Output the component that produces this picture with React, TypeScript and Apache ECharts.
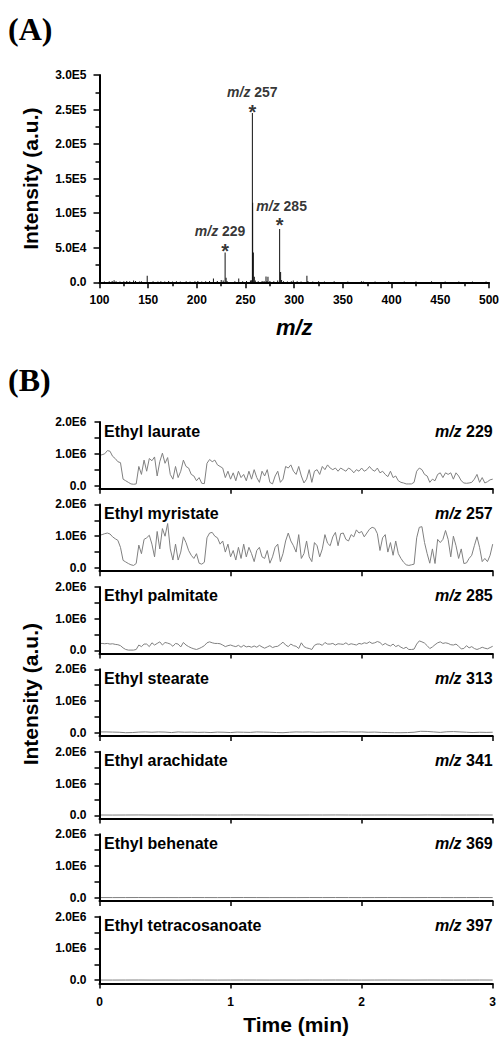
import React, { useEffect, useRef } from "react";
import * as echarts from "echarts";

// ---------- Panel A: mass spectrum (m/z, intensity) ----------
const spectrumMz = [101, 105, 110, 113, 115, 117, 121, 125, 128, 131, 135, 137, 141, 143, 149, 155, 160, 163, 167, 171, 175, 179, 183, 189, 193, 198, 201, 205, 209, 213, 217, 221, 225, 227, 229, 230, 231, 239, 243, 247, 251, 255, 256, 257, 257.3, 258, 259, 260, 263, 267, 269, 271, 272, 273, 275, 279, 283, 285, 286, 287, 289, 293, 297, 299, 303, 307, 313, 314, 319, 325, 331, 341, 355, 369, 371, 383, 397, 413, 425, 441, 455, 469, 483, 497];
const spectrumIntensity = [2500, 1200, 1500, 1800, 3000, 1500, 1200, 1500, 1800, 1500, 2500, 1800, 1200, 1500, 9500, 1500, 1200, 1500, 1200, 1800, 1200, 1500, 1200, 1500, 1200, 1500, 1800, 1200, 1500, 1800, 5500, 1800, 3500, 2500, 43000, 6500, 2000, 1500, 5500, 1500, 1800, 2500, 3000, 245000, 115000, 43000, 8000, 2500, 1500, 1800, 2000, 8500, 2000, 8000, 2000, 1500, 2500, 77000, 15000, 3500, 1500, 1200, 1500, 2500, 1500, 1200, 9500, 2000, 1200, 1500, 1200, 1500, 1200, 1500, 1200, 1200, 1500, 1200, 1200, 1500, 1200, 1200, 1200, 1200];
const peakMz = [229, 257, 285];
const peakIntensity = [43000, 245000, 77000];
const peakNames = ["229", "257", "285"];
const specYTickLabels = ["0.0", "5.0E4", "1.0E5", "1.5E5", "2.0E5", "2.5E5", "3.0E5"];

// ---------- Panel B: extracted ion chromatograms (values in 1E6 units) ----------
const TIME_MAX = 3; // min
const rowNames = ["Ethyl laurate", "Ethyl myristate", "Ethyl palmitate", "Ethyl stearate", "Ethyl arachidate", "Ethyl behenate", "Ethyl tetracosanoate"];
const rowMz = ["229", "257", "285", "313", "341", "369", "397"];
const rowYTickLabels = ["", "0.0", "", "", "", "", "", "", "", "", "", "1.0E6", "", "", "", "", "", "", "", "", "", "2.0E6"];

const laurate = [
  0.95, 0.97, 1.0, 1.1, 1.08, 0.92, 0.85, 0.75, 0.72, 0.2,
  0.15, 0.1, 0.05, 0.04, 0.05, 0.6, 0.35, 0.8, 0.45, 0.85,
  0.78, 0.9, 0.3, 0.75, 1.02, 0.7, 0.88, 0.35, 0.2, 0.6,
  0.25, 0.45, 0.8, 0.6, 0.55, 0.35, 0.3, 0.15, 0.25, 0.07,
  0.06, 0.7, 0.82, 0.75, 0.8, 0.65, 0.6, 0.55, 0.25, 0.45,
  0.2, 0.4, 0.15, 0.45, 0.25, 0.35, 0.15, 0.45, 0.2, 0.5,
  0.25, 0.1, 0.45, 0.3, 0.5, 0.1, 0.05, 0.3, 0.45, 0.1,
  0.2, 0.6, 0.55, 0.65, 0.45, 0.35, 0.6, 0.3, 0.08, 0.2,
  0.5, 0.1, 0.45, 0.5, 0.35, 0.6, 0.5, 0.65, 0.55, 0.5,
  0.55, 0.45, 0.55, 0.5, 0.45, 0.55, 0.5, 0.4, 0.5, 0.45,
  0.55, 0.45, 0.5, 0.6, 0.5, 0.45, 0.55, 0.4, 0.45, 0.35,
  0.28, 0.45, 0.25, 0.3, 0.15, 0.1, 0.08, 0.05, 0.05, 0.05,
  0.1, 0.45, 0.55, 0.5, 0.35, 0.3, 0.1, 0.2, 0.15, 0.35,
  0.4, 0.25, 0.4, 0.35, 0.4, 0.2, 0.4, 0.3, 0.15, 0.08,
  0.07, 0.08, 0.1, 0.2, 0.35, 0.1, 0.25, 0.08, 0.12, 0.18, 0.2,
];
const myristate = [
  1.03, 1.05, 1.08, 1.1, 1.07, 0.98, 0.92, 0.87, 0.65, 0.24,
  0.19, 0.14, 0.1, 0.08, 0.14, 0.72, 0.45, 0.9, 0.95, 1.03,
  0.75, 0.35, 1.15, 0.6, 1.24, 1.0, 1.4, 0.6, 0.25, 0.75,
  0.25, 0.5, 0.98, 0.8, 0.55, 0.4, 0.3, 0.45, 0.15, 0.12,
  0.18, 0.95, 1.1, 1.12, 1.0, 0.95, 0.75, 0.85, 0.5, 0.75,
  0.35, 0.55, 0.25, 0.65, 0.3, 0.75, 0.35, 0.65, 0.45, 0.2,
  0.55, 0.65, 0.35, 0.3, 0.55, 0.15, 0.35, 0.65, 0.75, 0.2,
  0.45, 0.85, 1.1, 0.85, 0.7, 0.5, 1.05, 0.3, 0.45, 0.85,
  0.35, 0.2, 0.8, 0.7, 0.35, 0.6, 1.05, 0.78, 0.7, 0.98,
  1.12, 0.7, 1.08, 1.1, 0.9, 0.85, 1.05, 0.98, 1.2, 1.1,
  1.15, 0.98, 1.1, 1.22, 1.28, 1.25, 1.08, 0.55, 0.95, 1.05,
  0.5, 0.8, 0.4, 0.85, 0.45, 0.3, 0.18, 0.1, 0.08, 0.1,
  0.12, 0.95, 1.28, 1.3, 0.8, 0.45, 0.15, 0.6, 0.14, 0.9,
  0.8, 0.9, 1.18, 0.9, 0.35, 1.0, 0.7, 0.3, 0.6, 0.14,
  0.16, 0.3, 0.4, 0.7, 0.98, 0.65, 0.2, 0.3, 0.2, 0.4, 0.75,
];
const palmitate = [
  0.22, 0.22, 0.21, 0.22, 0.2, 0.21, 0.19, 0.18, 0.15, 0.08,
  0.03, 0.01, 0.01, 0.01, 0.03, 0.17, 0.12, 0.2, 0.2, 0.12,
  0.24, 0.17, 0.22, 0.27, 0.17, 0.25, 0.23, 0.2, 0.13, 0.22,
  0.2, 0.11, 0.25, 0.17, 0.12, 0.08, 0.05, 0.03, 0.06, 0.1,
  0.15, 0.24, 0.27, 0.24, 0.22, 0.22, 0.21, 0.17, 0.12, 0.15,
  0.17, 0.14, 0.12, 0.16, 0.1, 0.16, 0.11, 0.13, 0.1, 0.14,
  0.1, 0.16, 0.11, 0.07, 0.11, 0.15, 0.09, 0.12, 0.13, 0.19,
  0.26, 0.17, 0.12, 0.2, 0.15, 0.13, 0.06, 0.24, 0.12, 0.08,
  0.06, 0.03, 0.16, 0.2, 0.2, 0.16, 0.25, 0.2, 0.2, 0.22,
  0.17, 0.21, 0.2, 0.19, 0.24, 0.18, 0.21, 0.19, 0.17, 0.22,
  0.2, 0.24, 0.22, 0.27, 0.22, 0.24, 0.28, 0.25, 0.17, 0.22,
  0.17, 0.14, 0.2, 0.12, 0.16, 0.1, 0.06, 0.1, 0.03, 0.03,
  0.04, 0.2, 0.3, 0.27, 0.23, 0.15, 0.06, 0.11, 0.18, 0.24,
  0.27, 0.22, 0.24, 0.22, 0.18, 0.17, 0.2, 0.13, 0.05, 0.06,
  0.15, 0.08, 0.12, 0.06, 0.03, 0.06, 0.1, 0.07, 0.05, 0.09, 0.13,
];
const stearate = [
  0.03, 0.03, 0.025, 0.02, 0.005, 0.01, 0.025, 0.03, 0.02, 0.03,
  0.025, 0.01, 0.03, 0.02, 0.025, 0.015, 0.02, 0.01, 0.025, 0.02,
  0.01, 0.025, 0.02, 0.015, 0.03, 0.025, 0.02, 0.01, 0.005, 0.02,
  0.03, 0.025, 0.03, 0.02, 0.025, 0.03, 0.025, 0.035, 0.03, 0.025,
  0.03, 0.02, 0.025, 0.015, 0.01, 0.005, 0.005, 0.01, 0.02, 0.05,
  0.045, 0.03, 0.015, 0.035, 0.04, 0.03, 0.02, 0.01, 0.02, 0.015, 0.02,
];
const arachidate = [0.01, 0.008, 0.01, 0.012, 0.009, 0.01, 0.008, 0.011, 0.01, 0.009, 0.01, 0.012, 0.01, 0.008, 0.01, 0.009, 0.011, 0.01, 0.012, 0.01, 0.009, 0.01, 0.011, 0.01, 0.008, 0.012, 0.01, 0.009, 0.01, 0.011, 0.01];
const behenate = [0.007, 0.006, 0.007, 0.008, 0.006, 0.007, 0.006, 0.008, 0.007, 0.006, 0.007, 0.008, 0.007, 0.006, 0.007, 0.006, 0.008, 0.007, 0.008, 0.007, 0.006, 0.007, 0.008, 0.007, 0.006, 0.008, 0.007, 0.006, 0.007, 0.008, 0.007];
const tetracosanoate = [0.006, 0.005, 0.006, 0.007, 0.005, 0.006, 0.005, 0.007, 0.006, 0.005, 0.006, 0.007, 0.006, 0.005, 0.006, 0.005, 0.007, 0.006, 0.007, 0.006, 0.005, 0.006, 0.007, 0.006, 0.005, 0.007, 0.006, 0.005, 0.006, 0.007, 0.006];
const rowSeries = [laurate, myristate, palmitate, stearate, arachidate, behenate, tetracosanoate];
const UNIT = 1e6;
const ROW_Y_MIN = -1e5;
const ROW_Y_MAX = 2e6;
const rowTickValues = [0, 5e5, 1e6, 1.5e6, 2e6];

// ---------- layout ----------
const W = 502;
const H_A = 350;
const H_B = 1037 - H_A;
const SANS = "Liberation Sans";
const SERIF = "Liberation Serif";
const PLOT_LEFT = 99.5;
const PLOT_RIGHT = 492.7;
const A_TOP = 75;
const A_BOTTOM = 282.3;
const B_TOP = 422 - H_A;
const ROW_PITCH = 82.45;
const ROW_H = 66.7;

const mkLine = () => ({ show: true, onZero: false, lineStyle: { color: "#000", width: 2 } });
const mkTick = (length: number, customValues?: number[]) => {
  const t: any = { show: true, length, lineStyle: { color: "#000", width: 1.5 } };
  if (customValues) t.customValues = customValues;
  return t;
};
const mkLabel = (extra: any) => ({ color: "#000", fontFamily: SANS, fontWeight: "bold", fontSize: 12, ...extra });
const nameStyle = (size: number, italic = false, extra: any = {}) => ({
  color: "#000", fontFamily: SANS, fontWeight: "bold", fontSize: size, fontStyle: italic ? "italic" : "normal", ...extra,
});
const labelAxis = (gridIndex: number, data: string[]) => ({
  type: "category", gridIndex, position: "left", boundaryGap: false, data,
  axisLine: { show: false, onZero: false }, axisTick: { show: false }, splitLine: { show: false },
  axisLabel: mkLabel({ margin: 13, interval: 0 }),
});
const frameLines = (xVal: number, yVal: number) => ({
  silent: true, symbol: ["none", "none"], label: { show: false },
  lineStyle: { color: "#000", width: 2, type: "solid" },
  data: [{ xAxis: xVal }, { yAxis: yVal }],
});
const title = (text: string, pos: any, family: string, size: number, italic = false) => ({
  text, padding: 0, ...pos,
  textStyle: { color: "#000", fontFamily: family, fontSize: size, fontWeight: "bold", fontStyle: italic ? "italic" : "normal", lineHeight: size },
});

function buildA(): any {
  const shift = [[-5, 0], [0, 0], [2, -2]];
  const starOffsets = [[0, 0], [0, 0], [0, -3]];
  const peakLabel = (part: "mz" | "num") => ({
    type: "scatter", xAxisIndex: 0, yAxisIndex: 0, symbolSize: 1, itemStyle: { color: "rgba(0,0,0,0)" }, z: 10,
    data: peakMz.map((m, i) => ({
      value: [m, peakIntensity[i]],
      label: {
        show: true, position: "top", distance: 14,
        offset: [shift[i][0] + (part === "mz" ? -13.6 : 13.6), shift[i][1]],
        formatter: part === "mz" ? "m/z" : peakNames[i],
        color: "#000", fontFamily: SANS, fontWeight: "bold", fontSize: 14,
        fontStyle: part === "mz" ? "italic" : "normal",
      },
    })),
  });
  return {
    animation: false,
    backgroundColor: "#fff",
    title: [title("(A)", { left: 8, top: 13 }, SERIF, 32)],
    grid: [{ left: PLOT_LEFT, top: A_TOP, width: PLOT_RIGHT - PLOT_LEFT, height: A_BOTTOM - A_TOP }],
    xAxis: [{
      type: "value", min: 100, max: 500, interval: 50,
      axisLine: mkLine(), splitLine: { show: false },
      axisTick: mkTick(6),
      minorTick: { show: true, splitNumber: 2, length: 4, lineStyle: { color: "#000", width: 1.5 } },
      axisLabel: mkLabel({ margin: 12 }),
      name: "m/z", nameLocation: "middle", nameGap: 34, nameTextStyle: nameStyle(22, true),
    }],
    yAxis: [
      {
        type: "value", min: 0, max: 300000, interval: 50000,
        axisLine: mkLine(), splitLine: { show: false },
        axisTick: mkTick(6),
        minorTick: { show: true, splitNumber: 2, length: 4, lineStyle: { color: "#000", width: 1.5 } },
        axisLabel: { show: false },
        name: "Intensity (a.u.)", nameLocation: "middle", nameGap: 59, nameRotate: 90, nameTextStyle: nameStyle(21),
      },
      labelAxis(0, specYTickLabels),
    ],
    series: [
      {
        type: "bar", xAxisIndex: 0, yAxisIndex: 0, barWidth: 1, barGap: "-100%",
        itemStyle: { color: "#111" },
        data: spectrumMz.map((m, i) => [m, spectrumIntensity[i]]),
        markLine: frameLines(100, 0),
      },
      peakLabel("mz"),
      peakLabel("num"),
      {
        type: "scatter", xAxisIndex: 0, yAxisIndex: 0, symbolSize: 1, itemStyle: { color: "rgba(0,0,0,0)" }, z: 10,
        data: peakMz.map((m, i) => ({
          value: [m, peakIntensity[i]],
          label: {
            show: true, position: "top", distance: -9, offset: starOffsets[i],
            formatter: "*", fontFamily: SANS, fontWeight: "bold", fontSize: 20, color: "#000", lineHeight: 20,
          },
        })),
      },
    ],
  };
}

function buildB(): any {
  const grids: any[] = [];
  const xAxes: any[] = [];
  const yAxes: any[] = [];
  const labelAxes: any[] = [];
  const series: any[] = [];
  const titles: any[] = [title("(B)", { left: 8, top: 14 }, SERIF, 32)];
  const last = rowNames.length - 1;
  for (let r = 0; r < rowNames.length; r++) {
    const top = B_TOP + ROW_PITCH * r;
    grids.push({ left: PLOT_LEFT, top, width: PLOT_RIGHT - PLOT_LEFT, height: ROW_H });
    const xa: any = {
      type: "value", gridIndex: r, min: 0, max: TIME_MAX, interval: 1,
      axisLine: mkLine(), splitLine: { show: false },
      axisTick: mkTick(5),
      axisLabel: mkLabel({ show: r === last, margin: 13 }),
    };
    if (r === last) Object.assign(xa, { name: "Time (min)", nameLocation: "middle", nameGap: 31, nameTextStyle: nameStyle(21) });
    xAxes.push(xa);
    const ya: any = {
      type: "value", gridIndex: r, min: ROW_Y_MIN, max: ROW_Y_MAX,
      axisLine: mkLine(), splitLine: { show: false },
      axisTick: mkTick(5, rowTickValues),
      axisLabel: { show: false },
    };
    if (r === 3) Object.assign(ya, { name: "Intensity (a.u.)", nameLocation: "middle", nameGap: 59, nameRotate: 90, nameTextStyle: nameStyle(21, false, { padding: [0, 0, 0, 17] }) });
    yAxes.push(ya);
    labelAxes.push(labelAxis(r, rowYTickLabels));
    const vals = rowSeries[r];
    const step = TIME_MAX / (vals.length - 1);
    series.push({
      type: "line", xAxisIndex: r, yAxisIndex: r, showSymbol: false, symbol: "none",
      lineStyle: { color: "#808080", width: 1 },
      data: vals.map((v, i) => [i * step, v * UNIT]),
      markLine: frameLines(0, ROW_Y_MIN),
    });
    titles.push(title(rowNames[r], { left: 104, top: top + 1 }, SANS, 16));
    titles.push(title(rowMz[r], { right: W - PLOT_RIGHT, top: top + 1 }, SANS, 16));
    titles.push(title("m/z", { right: W - PLOT_RIGHT + 31.1, top: top + 1 }, SANS, 16, true));
  }
  return { animation: false, backgroundColor: "#fff", title: titles, grid: grids, xAxis: xAxes, yAxis: yAxes.concat(labelAxes), series };
}

function ChartBox({ build, top, height }: { build: () => any; top: number; height: number }) {
  const ref = useRef<HTMLDivElement>(null);
  useEffect(() => {
    if (!ref.current) return;
    const chart = echarts.init(ref.current, null, { renderer: "svg" });
    chart.setOption(build());
    return () => chart.dispose();
  }, []);
  return <div ref={ref} style={{ position: "absolute", left: 0, top, width: W, height }} />;
}

export default function App() {
  return (
    <div style={{ position: "absolute", left: 0, top: 0, width: W, height: H_A + H_B }}>
      <ChartBox build={buildA} top={0} height={H_A} />
      <ChartBox build={buildB} top={H_A} height={H_B} />
    </div>
  );
}
